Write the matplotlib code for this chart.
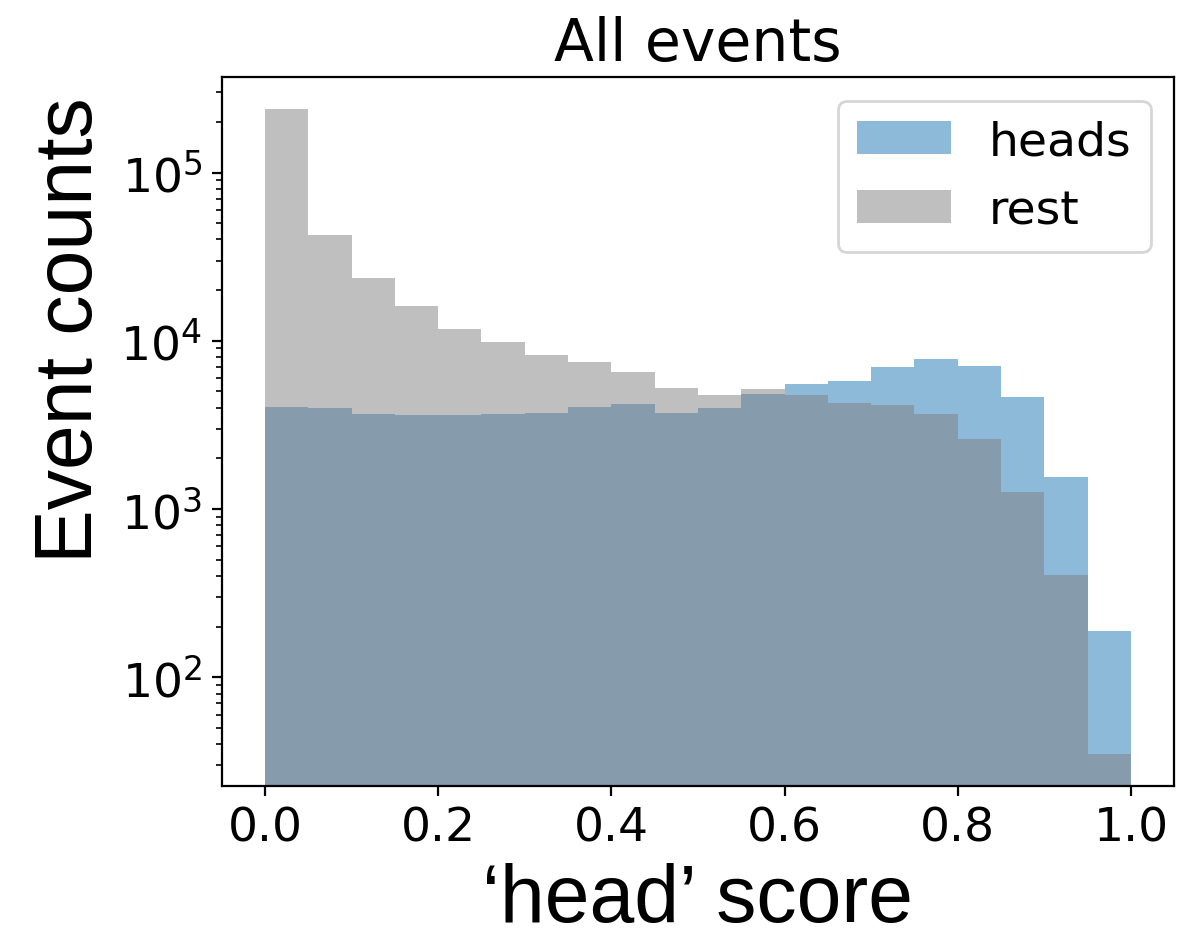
import numpy as np
import matplotlib
matplotlib.use('Agg')
import matplotlib.pyplot as plt

bins = np.linspace(0, 1, 21)
heads_counts = [4050, 3990, 3670, 3620, 3620, 3670, 3720, 4050, 4220, 3720,
                3990, 4830, 5530, 5770, 6980, 7800, 7080, 4640, 1550, 189]
rest_counts = [238000, 42500, 23600, 16100, 11700, 9800, 8200, 7500, 6500, 5250,
               4770, 5180, 4770, 4270, 4150, 3670, 2610, 1260, 406, 35]

fig, ax = plt.subplots(figsize=(5.895, 4.725), dpi=200)
fig.subplots_adjust(left=0.188, right=0.996, top=0.9175, bottom=0.167)

centers = (bins[:-1] + bins[1:]) / 2
ax.hist(centers, bins=bins, weights=heads_counts, color='tab:blue', alpha=0.5, log=True, label='heads')
ax.hist(centers, bins=bins, weights=rest_counts, color='gray', alpha=0.5, log=True, label='rest')

ax.set_title('All events', fontsize=21)
ax.set_xlabel('\u2018head\u2019 score', fontsize=29, family='Liberation Sans')
ax.set_ylabel('Event counts', fontsize=29, family='Liberation Sans', y=0.645)
ax.tick_params(labelsize=17)
ax.legend(fontsize=17)

fig.savefig('out.png', dpi=200)
